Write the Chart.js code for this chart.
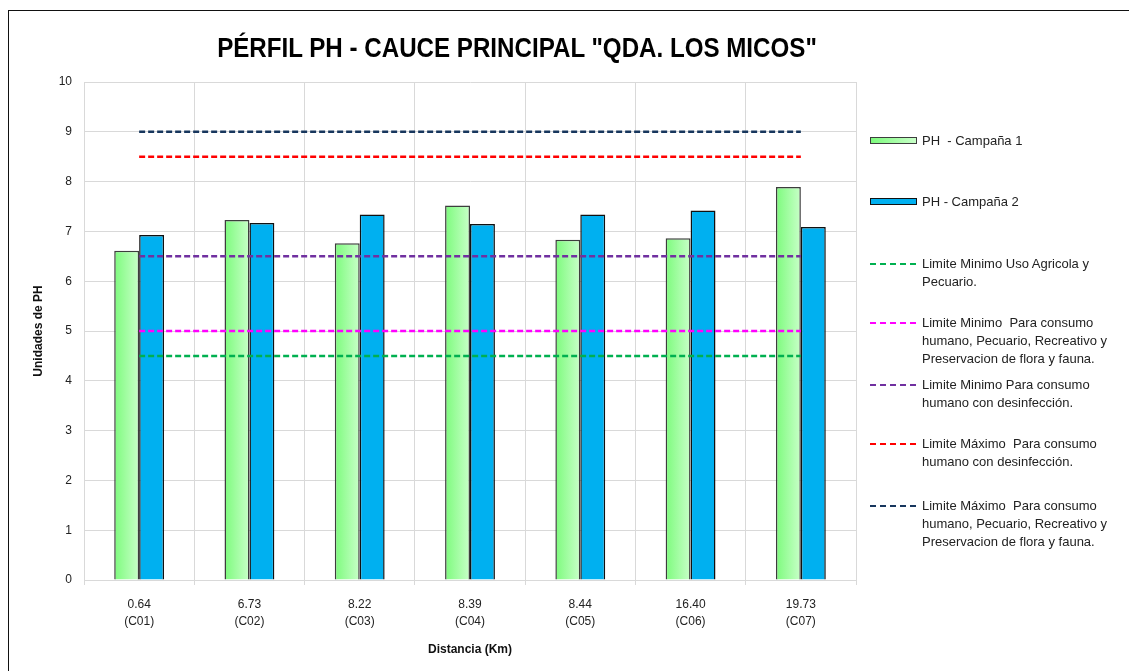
<!DOCTYPE html>
<html>
<head>
<meta charset="utf-8">
<script src="https://cdn.jsdelivr.net/npm/chart.js@4.4.1/dist/chart.umd.min.js"></script>
<style>
  html, body { margin: 0; padding: 0; background: #fff; }
  #wrap { position: relative; width: 1129px; height: 671px; overflow: hidden; }
  #graficoPH { position: absolute; left: 0; top: 0; }
  #marco { position: absolute; left: 8px; top: 10px; width: 1200px; height: 800px; border: 1.5px solid #111; box-sizing: border-box; }
  #titulo { position: absolute; left: 517px; top: 48px; white-space: pre; font-family: "Liberation Sans", Arial, sans-serif; font-weight: bold; font-size: 27px; line-height: 27px; color: #000; }
  #leyenda { position: absolute; left: 0; top: 0; font-family: "Liberation Sans", Arial, sans-serif; font-size: 13px; color: #222; }
  .item { position: absolute; left: 870px; white-space: pre; }
  .simbolo { position: absolute; left: 0; width: 47px; }
  .texto { position: absolute; left: 52px; line-height: 18px; }
</style>
</head>
<body>
<div id="wrap">
  <canvas id="graficoPH" width="1129" height="671"></canvas>
  <div id="marco"></div>
  <div id="titulo"></div>
  <div id="leyenda"></div>
</div>
<script>
// Datos
const distancias = [['0.64', '(C01)'], ['6.73', '(C02)'], ['8.22', '(C03)'], ['8.39', '(C04)'], ['8.44', '(C05)'], ['16.40', '(C06)'], ['19.73', '(C07)']];
const phCampana1 = [6.61, 7.23, 6.76, 7.52, 6.83, 6.86, 7.89];
const phCampana2 = [6.93, 7.17, 7.34, 7.15, 7.34, 7.42, 7.09];

// Limites de referencia (constantes en cada punto)
const limMinAgricola = [4.5, 4.5, 4.5, 4.5, 4.5, 4.5, 4.5];
const limMinConsumo = [5, 5, 5, 5, 5, 5, 5];
const limMinDesinf = [6.5, 6.5, 6.5, 6.5, 6.5, 6.5, 6.5];
const limMaxDesinf = [8.5, 8.5, 8.5, 8.5, 8.5, 8.5, 8.5];
const limMaxConsumo = [9, 9, 9, 9, 9, 9, 9];

const yTicks = [0, 1, 2, 3, 4, 5, 6, 7, 8, 9, 10];

const titulo = 'PÉRFIL PH - CAUCE PRINCIPAL "QDA. LOS MICOS"';
const fuente = '"Liberation Sans", Arial, sans-serif';

// degradado verde de cada barra de la campaña 1
function degradadoVerde(ctx) {
    const chart = ctx.chart;
    const xs = chart.scales.x;
    if (!xs || ctx.dataIndex === undefined) return '#9cfc9c';
    const centro = xs.getPixelForValue(ctx.dataIndex);
    const anchoBarra = (xs.width / distancias.length) * 0.452 / 2;
    if (!isFinite(centro) || !isFinite(anchoBarra) || anchoBarra <= 0) return '#9cfc9c';
    const g = chart.ctx.createLinearGradient(centro - anchoBarra, 0, centro, 0);
    g.addColorStop(0, '#7dfb7d');
    g.addColorStop(1, '#c8ffc8');
    return g;
}

function linea(label, data, color) {
    return {
        type: 'line',
        label: label,
        data: data,
        borderColor: color,
        backgroundColor: color,
        borderWidth: 2.5,
        borderDash: [6, 3],
        pointRadius: 0,
        fill: false,
        order: 1
    };
}

const ctx = document.getElementById('graficoPH').getContext('2d');
const chart = new Chart(ctx, {
    type: 'bar',
    data: {
        labels: distancias,
        datasets: [
            {
                label: 'PH  - Campaña 1',
                data: phCampana1,
                backgroundColor: degradadoVerde,
                borderColor: '#3d3d3d',
                borderWidth: 1.5,
                categoryPercentage: 0.452,
                barPercentage: 1,
                order: 2
            },
            {
                label: 'PH - Campaña 2',
                data: phCampana2,
                backgroundColor: '#00b0f0',
                borderColor: '#111',
                borderWidth: 1.5,
                categoryPercentage: 0.452,
                barPercentage: 1,
                order: 2
            },
            linea('Limite Minimo Uso Agricola y Pecuario.', limMinAgricola, '#00b050'),
            linea('Limite Minimo  Para consumo humano, Pecuario, Recreativo y Preservacion de flora y fauna.', limMinConsumo, '#ff00ff'),
            linea('Limite Minimo Para consumo humano con desinfección.', limMinDesinf, '#7030a0'),
            linea('Limite Máximo  Para consumo humano con desinfección.', limMaxDesinf, '#ff0000'),
            linea('Limite Máximo  Para consumo humano, Pecuario, Recreativo y Preservacion de flora y fauna.', limMaxConsumo, '#17365d')
        ]
    },
    options: {
        responsive: false,
        animation: false,
        layout: { padding: { left: 0, right: 273, top: 82, bottom: 14 } },
        plugins: {
            legend: { display: false },
            tooltip: { enabled: false },
            title: { display: false }
        },
        scales: {
            x: {
                grid: { color: '#d9d9d9', tickLength: 5, offset: true },
                border: { color: '#d9d9d9' },
                ticks: { color: '#222', font: { family: fuente, size: 12, lineHeight: 1.35 }, padding: 12, maxRotation: 0 },
                title: { display: true, text: 'Distancia (Km)', color: '#111', font: { family: fuente, size: 12, weight: 'bold' }, padding: 0 },
                afterFit: (s) => { s.height = 77; }
            },
            y: {
                min: 0,
                max: 10,
                afterBuildTicks: (s) => { s.ticks = yTicks.map(v => ({ value: v })); },
                grid: { color: '#d9d9d9', drawTicks: false },
                border: { color: '#d9d9d9' },
                ticks: { color: '#222', font: { family: fuente, size: 12 }, padding: 12 },
                title: { display: true, text: 'Unidades de PH', color: '#111', font: { family: fuente, size: 12, weight: 'bold' }, padding: { top: 31, bottom: 0 } },
                afterFit: (s) => { s.width = 84; }
            }
        }
    }
});

// titulo centrado y comprimido a lo ancho (fuente condensada en el original)
const tit = document.getElementById('titulo');
tit.textContent = titulo;
const escala = 600 / tit.offsetWidth;
tit.style.transform = `translate(-50%, -50%) scaleX(${escala})`;

// leyenda a la derecha, construida con los datasets
const textosLeyenda = [
    ['PH  - Campaña 1'],
    ['PH - Campaña 2'],
    ['Limite Minimo Uso Agricola y', 'Pecuario.'],
    ['Limite Minimo  Para consumo', 'humano, Pecuario, Recreativo y', 'Preservacion de flora y fauna.'],
    ['Limite Minimo Para consumo', 'humano con desinfección.'],
    ['Limite Máximo  Para consumo', 'humano con desinfección.'],
    ['Limite Máximo  Para consumo', 'humano, Pecuario, Recreativo y', 'Preservacion de flora y fauna.']
];
const topLeyenda = [132, 193, 255, 314, 376, 435, 497];

const leyenda = document.getElementById('leyenda');
chart.data.datasets.forEach((ds, i) => {
    const item = document.createElement('div');
    item.className = 'item';
    item.style.top = topLeyenda[i] + 'px';
    const sim = document.createElement('div');
    sim.className = 'simbolo';
    if (ds.type === 'line') {
        sim.style.top = '8px';
        sim.style.height = '2px';
        sim.style.background = `repeating-linear-gradient(90deg, ${ds.borderColor} 0 6px, transparent 6px 10px)`;
    } else {
        sim.style.top = '5px';
        sim.style.height = '7px';
        sim.style.boxSizing = 'border-box';
        sim.style.border = '1.5px solid ' + ds.borderColor;
        sim.style.background = i === 0 ? 'linear-gradient(90deg, #7dfb7d, #c8ffc8)' : ds.backgroundColor;
    }
    const txt = document.createElement('div');
    txt.className = 'texto';
    txt.textContent = textosLeyenda[i].join('\n');
    item.appendChild(sim);
    item.appendChild(txt);
    leyenda.appendChild(item);
});
</script>
</body>
</html>
